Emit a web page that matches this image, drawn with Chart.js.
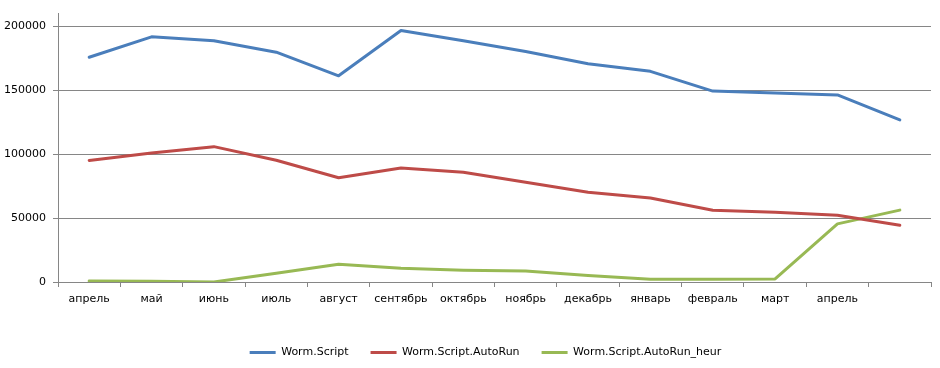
<!DOCTYPE html>
<html>
<head>
<meta charset="utf-8">
<script src="https://cdn.jsdelivr.net/npm/chart.js@4"></script>
<style>
  html, body { margin: 0; padding: 0; background: #fff; }
  #wrap { width: 940px; height: 368px; }
</style>
</head>
<body>
<div id="wrap"><canvas id="chart"></canvas></div>
<script>
// categories (the last one has no label)
var months = ["апрель", "май", "июнь", "июль", "август", "сентябрь", "октябрь", "ноябрь", "декабрь", "январь", "февраль", "март", "апрель", ""];

// series values
var wormScript = [176000, 192000, 189000, 180000, 161500, 197000, 189000, 180500, 171000, 165000, 149500, 148000, 146500, 127000];
var wormAutoRun = [95200, 101000, 106000, 95400, 81600, 89200, 86000, 78200, 70300, 65800, 56200, 54700, 52300, 44500];
var wormAutoRunHeur = [800, 600, 0, 6800, 13900, 10800, 9200, 8600, 5000, 2100, 2200, 2400, 45500, 56300];

// y tick values
var yTicks = [0, 50000, 100000, 150000, 200000];

var gridColor = '#868686';
var font = { family: 'DejaVu Sans', size: 11 };

function series(label, data, color) {
    return {
        label: label,
        data: data,
        borderColor: color,
        backgroundColor: color,
        borderWidth: 3,
        pointRadius: 0,
        tension: 0,
        fill: false,
        borderJoinStyle: 'round',
        borderCapStyle: 'round'
    };
}

// move the legend a bit to the right, like in the original
var shiftLegend = {
    id: 'shiftLegend',
    afterLayout: function (chart) {
        chart.legend.left += 20;
        chart.legend.right += 20;
    }
};

var ctx = document.getElementById('chart').getContext('2d');
new Chart(ctx, {
    type: 'line',
    data: {
        labels: months,
        datasets: [
            series('Worm.Script', wormScript, '#4a7ebb'),
            series('Worm.Script.AutoRun', wormAutoRun, '#be4b48'),
            series('Worm.Script.AutoRun_heur', wormAutoRunHeur, '#98b954')
        ]
    },
    plugins: [shiftLegend],
    options: {
        responsive: true,
        maintainAspectRatio: false,
        animation: false,
        layout: {
            padding: { left: 0, right: 9, top: 0, bottom: 0 }
        },
        plugins: {
            tooltip: { enabled: false },
            legend: {
                position: 'bottom',
                maxHeight: 44,
                labels: {
                    boxWidth: 26,
                    boxHeight: 3,
                    padding: 22,
                    color: '#000',
                    font: font,
                    generateLabels: function (chart) {
                        var items = Chart.defaults.plugins.legend.labels.generateLabels(chart);
                        items.forEach(function (it) { it.lineWidth = 0; });
                        return items;
                    }
                }
            }
        },
        scales: {
            x: {
                offset: true,
                afterFit: function (scale) { scale.height = 43; },
                grid: {
                    offset: true,
                    drawOnChartArea: false,
                    drawTicks: true,
                    tickLength: 5,
                    color: gridColor
                },
                border: { display: true, color: gridColor },
                ticks: {
                    padding: 6,
                    color: '#000',
                    font: font,
                    maxRotation: 0,
                    autoSkip: false
                }
            },
            y: {
                min: 0,
                max: 210200,
                afterFit: function (scale) { scale.width = 58; },
                afterBuildTicks: function (scale) {
                    scale.ticks = yTicks.map(function (v) { return { value: v }; });
                },
                grid: {
                    color: gridColor,
                    drawTicks: true,
                    tickLength: 5
                },
                border: { display: true, color: gridColor },
                ticks: {
                    padding: 7,
                    color: '#000',
                    font: font,
                    callback: function (v) { return String(v); }
                }
            }
        }
    }
});
</script>
</body>
</html>
